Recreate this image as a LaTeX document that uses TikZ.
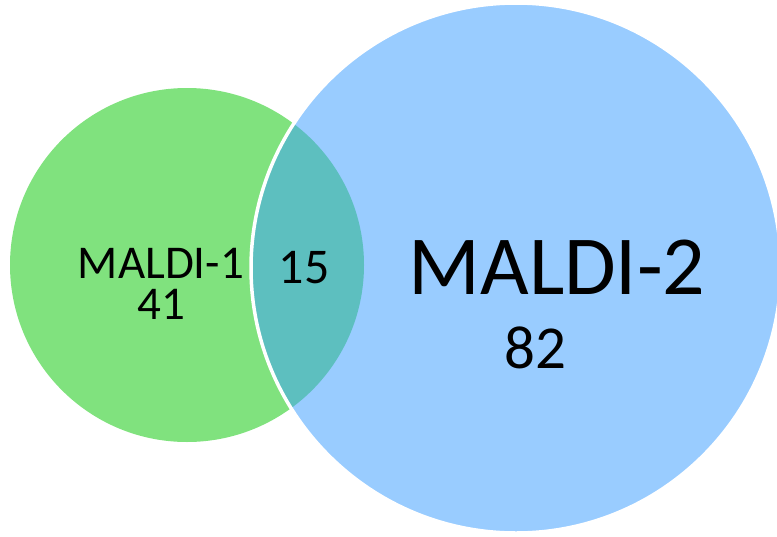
\documentclass[tikz,border=0pt]{standalone}
\usepackage{fontspec}
\setmainfont{Carlito}
\begin{document}
\begin{tikzpicture}[x=1pt,y=-1pt,
  lbl/.style={inner sep=0pt,anchor=base,text=black}]
\definecolor{setA}{HTML}{80E27E}
\definecolor{setB}{HTML}{99CCFF}
\definecolor{setAB}{HTML}{5DBFBF}
\useasboundingbox (0,0) rectangle (777,536);
\clip (0,0) rectangle (777,536);
\coordinate (cA) at (187,265);
\coordinate (cB) at (516,268);
\fill[setA] (cA) circle[radius=177];
\fill[setB] (cB) circle[radius=265];
\begin{scope}
  \clip (cB) circle[radius=265];
  \fill[setAB] (cA) circle[radius=177];
\end{scope}
\draw[white,line width=3.5] (cB) circle[radius=265];
\node[lbl,align=center,font=\fontsize{47}{41}\selectfont] (m1) at (161,319) {MALDI-1\\[-0.5pt]41};
\node[lbl,font=\fontsize{50}{50}\selectfont] (n12) at (304,283) {15};
\node[lbl,font=\fontsize{84}{84}\selectfont] (m2) at (557,294) {MALDI-2};
\node[lbl,font=\fontsize{61}{61}\selectfont] (n2) at (535,368) {82};
\end{tikzpicture}
\end{document}
